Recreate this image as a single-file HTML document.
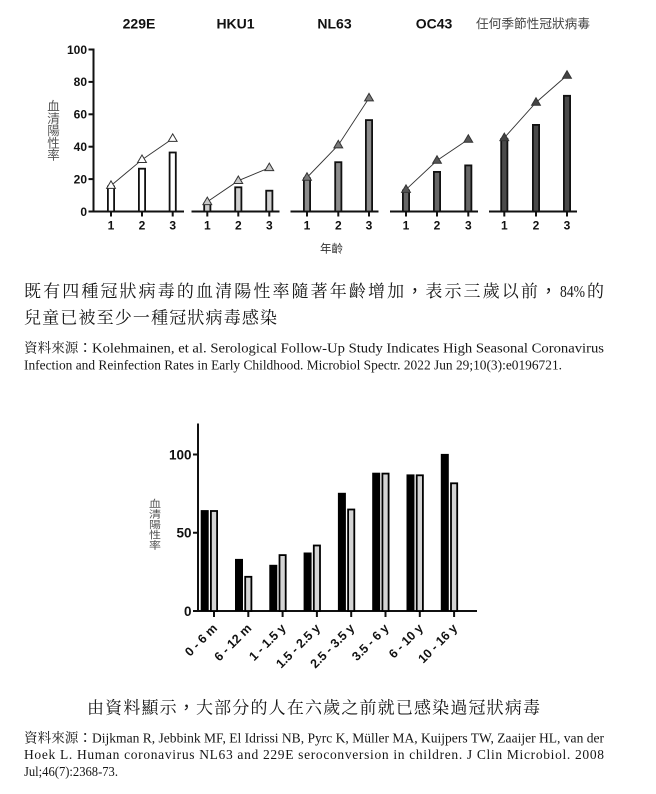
<!DOCTYPE html>
<html><head><meta charset="utf-8">
<style>
html,body{margin:0;padding:0;background:#fff;}
svg{display:block;}
.t{font-family:"Liberation Sans",Arial,sans-serif;font-weight:bold;fill:#111;}
.cj{font-family:"Liberation Sans","Noto Sans CJK TC",sans-serif;}
.sf{font-family:"Liberation Serif","Noto Serif CJK SC",serif;fill:#161616;}
.pn{font-family:"Noto Sans CJK TC",sans-serif;}
</style></head>
<body>
<svg width="656" height="794" viewBox="0 0 656 794" xmlns="http://www.w3.org/2000/svg">
<rect width="656" height="794" fill="#fff"/>

<!-- ===== TOP CHART ===== -->
<g class="t" font-size="14" text-anchor="middle">
<text x="139" y="28.5">229E</text>
<text x="235.5" y="28.5">HKU1</text>
<text x="334.5" y="28.5">NL63</text>
<text x="434" y="28.5">OC43</text>
</g>
<text class="cj" x="476" y="28" font-size="12.5" fill="#444" textLength="114" lengthAdjust="spacingAndGlyphs">任何季節性冠狀病毒</text>

<!-- y label -->
<g class="cj" font-size="12.5" fill="#555" text-anchor="middle">
<text x="53.5" y="110.5">血</text>
<text x="53.5" y="122.8">清</text>
<text x="53.5" y="135.1">陽</text>
<text x="53.5" y="147.4">性</text>
<text x="53.5" y="159.7">率</text>
</g>

<!-- y axis -->
<g stroke="#111" stroke-width="2" fill="none">
<line x1="93.5" y1="48.5" x2="93.5" y2="212.5"/>
<line x1="88.5" y1="211.5" x2="93.5" y2="211.5"/>
<line x1="88.5" y1="179.1" x2="93.5" y2="179.1"/>
<line x1="88.5" y1="146.7" x2="93.5" y2="146.7"/>
<line x1="88.5" y1="114.3" x2="93.5" y2="114.3"/>
<line x1="88.5" y1="81.9" x2="93.5" y2="81.9"/>
<line x1="88.5" y1="49.5" x2="93.5" y2="49.5"/>
<line x1="92.5" y1="211.5" x2="184" y2="211.5"/>
<line x1="191.5" y1="211.5" x2="279.5" y2="211.5"/>
<line x1="290.5" y1="211.5" x2="378.5" y2="211.5"/>
<line x1="390" y1="211.5" x2="478" y2="211.5"/>
<line x1="489" y1="211.5" x2="577" y2="211.5"/>
<line x1="111" y1="211.5" x2="111" y2="216.5"/><line x1="142" y1="211.5" x2="142" y2="216.5"/><line x1="172.7" y1="211.5" x2="172.7" y2="216.5"/>
<line x1="207.3" y1="211.5" x2="207.3" y2="216.5"/><line x1="238.3" y1="211.5" x2="238.3" y2="216.5"/><line x1="269.3" y1="211.5" x2="269.3" y2="216.5"/>
<line x1="307" y1="211.5" x2="307" y2="216.5"/><line x1="338.3" y1="211.5" x2="338.3" y2="216.5"/><line x1="369" y1="211.5" x2="369" y2="216.5"/>
<line x1="406" y1="211.5" x2="406" y2="216.5"/><line x1="437" y1="211.5" x2="437" y2="216.5"/><line x1="468.3" y1="211.5" x2="468.3" y2="216.5"/>
<line x1="504.3" y1="211.5" x2="504.3" y2="216.5"/><line x1="536" y1="211.5" x2="536" y2="216.5"/><line x1="567" y1="211.5" x2="567" y2="216.5"/>
</g>

<g class="t" font-size="12" text-anchor="end">
<text x="87" y="215.8">0</text>
<text x="87" y="183.4">20</text>
<text x="87" y="151">40</text>
<text x="87" y="118.6">60</text>
<text x="87" y="86.2">80</text>
<text x="87" y="53.8">100</text>
</g>
<g class="t" font-size="12" text-anchor="middle">
<text x="111" y="229.5">1</text><text x="142" y="229.5">2</text><text x="172.7" y="229.5">3</text>
<text x="207.3" y="229.5">1</text><text x="238.3" y="229.5">2</text><text x="269.3" y="229.5">3</text>
<text x="307" y="229.5">1</text><text x="338.3" y="229.5">2</text><text x="369" y="229.5">3</text>
<text x="406" y="229.5">1</text><text x="437" y="229.5">2</text><text x="468.3" y="229.5">3</text>
<text x="504.3" y="229.5">1</text><text x="536" y="229.5">2</text><text x="567" y="229.5">3</text>
</g>
<text class="cj" x="320" y="252.5" font-size="11.5" fill="#333">年齡</text>

<!-- bars -->
<g stroke="#111" stroke-width="1.8">
<g fill="#ffffff">
<rect x="107.9" y="186.5" width="6.2" height="25"/>
<rect x="138.9" y="168.7" width="6.2" height="42.8"/>
<rect x="169.6" y="152.5" width="6.2" height="59"/>
</g>
<g fill="#cfcfcf">
<rect x="204.2" y="203.5" width="6.2" height="8"/>
<rect x="235.2" y="187.3" width="6.2" height="24.2"/>
<rect x="266.2" y="190.7" width="6.2" height="20.8"/>
</g>
<g fill="#8c8c8c">
<rect x="303.9" y="178.4" width="6.2" height="33.1"/>
<rect x="335.2" y="162.2" width="6.2" height="49.3"/>
<rect x="365.9" y="120.1" width="6.2" height="91.4"/>
</g>
<g fill="#666666">
<rect x="402.9" y="190.5" width="6.2" height="21"/>
<rect x="433.9" y="171.9" width="6.2" height="39.6"/>
<rect x="465.2" y="165.4" width="6.2" height="46.1"/>
</g>
<g fill="#4a4a4a">
<rect x="501.2" y="139" width="6.2" height="72.5"/>
<rect x="532.9" y="124.9" width="6.2" height="86.6"/>
<rect x="563.9" y="95.8" width="6.2" height="115.7"/>
</g>
</g>

<g stroke="#333" stroke-width="0.9" fill="none">
<polyline points="111,185.6 142,159.7 172.7,138.6"/>
<polyline points="207.3,201.8 238.3,180.7 269.3,167.8"/>
<polyline points="307,177.5 338.3,145.1 369,98.1"/>
<polyline points="406,189.6 437,160.5 468.3,139.4"/>
<polyline points="504.3,137.8 536,102.5 567,75.4"/>
</g>
<g stroke="#333" stroke-width="1">
<g fill="#ffffff">
<polygon points="111,180.9 106.6,188.4 115.4,188.4"/>
<polygon points="142,155 137.6,162.5 146.4,162.5"/>
<polygon points="172.7,133.9 168.3,141.4 177.1,141.4"/>
</g>
<g fill="#c8c8c8">
<polygon points="207.3,197.1 202.9,204.6 211.7,204.6"/>
<polygon points="238.3,176 233.9,183.5 242.7,183.5"/>
<polygon points="269.3,163.1 264.9,170.6 273.7,170.6"/>
</g>
<g fill="#7a7a7a">
<polygon points="307,172.8 302.6,180.3 311.4,180.3"/>
<polygon points="338.3,140.4 333.9,147.9 342.7,147.9"/>
<polygon points="369,93.4 364.6,100.9 373.4,100.9"/>
</g>
<g fill="#555555">
<polygon points="406,184.9 401.6,192.4 410.4,192.4"/>
<polygon points="437,155.8 432.6,163.3 441.4,163.3"/>
<polygon points="468.3,134.7 463.9,142.2 472.7,142.2"/>
</g>
<g fill="#444444">
<polygon points="504.3,133.1 499.9,140.6 508.7,140.6"/>
<polygon points="536,97.8 531.6,105.3 540.4,105.3"/>
<polygon points="567,70.7 562.6,78.2 571.4,78.2"/>
</g>
</g>

<!-- ===== TEXT BLOCK 1 ===== -->
<text class="sf" x="24" y="297" font-size="17" textLength="533" lengthAdjust="spacing">既有四種冠狀病毒的血清陽性率隨著年齡增加<tspan class="pn">，</tspan>表示三歲以前<tspan class="pn">，</tspan></text>
<text class="sf" x="560" y="297" font-size="17" textLength="25" lengthAdjust="spacingAndGlyphs">84%</text>
<text class="sf" x="587" y="297" font-size="17">的</text>
<text class="sf" x="24" y="323.5" font-size="17" textLength="253" lengthAdjust="spacing">兒童已被至少一種冠狀病毒感染</text>
<text class="sf" x="24" y="352.3" font-size="13.5" textLength="68" lengthAdjust="spacingAndGlyphs">資料來源<tspan class="pn">：</tspan></text>
<text class="sf" x="92" y="352.3" font-size="13.5" textLength="512" lengthAdjust="spacingAndGlyphs">Kolehmainen, et al. Serological Follow-Up Study Indicates High Seasonal Coronavirus</text>
<text class="sf" x="24" y="369.3" font-size="13.5" textLength="538" lengthAdjust="spacingAndGlyphs">Infection and Reinfection Rates in Early Childhood. Microbiol Spectr. 2022 Jun 29;10(3):e0196721.</text>

<!-- ===== BOTTOM CHART ===== -->
<g class="cj" font-size="12" fill="#555" text-anchor="middle" transform="scale(1,0.85)">
<text x="155" y="597.1">血</text>
<text x="155" y="609.3">清</text>
<text x="155" y="621.5">陽</text>
<text x="155" y="633.8">性</text>
<text x="155" y="646">率</text>
</g>

<g stroke="#111" stroke-width="2" fill="none">
<line x1="198" y1="423.5" x2="198" y2="612"/>
<line x1="197" y1="611" x2="477" y2="611"/>
<line x1="193" y1="454.5" x2="198" y2="454.5"/>
<line x1="193" y1="532.75" x2="198" y2="532.75"/>
<line x1="193" y1="611" x2="198" y2="611"/>
<line x1="214" y1="611" x2="214" y2="617"/>
<line x1="248.3" y1="611" x2="248.3" y2="617"/>
<line x1="282.6" y1="611" x2="282.6" y2="617"/>
<line x1="316.9" y1="611" x2="316.9" y2="617"/>
<line x1="351.2" y1="611" x2="351.2" y2="617"/>
<line x1="385.5" y1="611" x2="385.5" y2="617"/>
<line x1="419.8" y1="611" x2="419.8" y2="617"/>
<line x1="454.1" y1="611" x2="454.1" y2="617"/>
</g>
<g class="t" font-size="13.5" text-anchor="end">
<text x="191.5" y="459.3">100</text>
<text x="191.5" y="537.6">50</text>
<text x="191.5" y="615.8">0</text>
</g>

<g fill="#000">
<rect x="200.7" y="510.1" width="8" height="100.9"/>
<rect x="235" y="558.9" width="8" height="52.1"/>
<rect x="269.3" y="564.8" width="8" height="46.2"/>
<rect x="303.6" y="552.5" width="8" height="58.5"/>
<rect x="337.9" y="492.8" width="8" height="118.2"/>
<rect x="372.2" y="472.7" width="8" height="138.3"/>
<rect x="406.5" y="474.4" width="8" height="136.6"/>
<rect x="440.8" y="453.9" width="8" height="157.1"/>
</g>
<g fill="#d4d4d4" stroke="#000" stroke-width="1.8">
<rect x="210.9" y="511" width="6.2" height="100"/>
<rect x="245.2" y="576.8" width="6.2" height="34.2"/>
<rect x="279.5" y="555.1" width="6.2" height="55.9"/>
<rect x="313.8" y="545.5" width="6.2" height="65.5"/>
<rect x="348.1" y="509.5" width="6.2" height="101.5"/>
<rect x="382.4" y="473.6" width="6.2" height="137.4"/>
<rect x="416.7" y="475.3" width="6.2" height="135.7"/>
<rect x="451" y="483.3" width="6.2" height="127.7"/>
</g>

<g class="t" font-size="12.5" text-anchor="end">
<text x="218" y="629" transform="rotate(-45 218 629)">0 - 6 m</text>
<text x="252.3" y="629" transform="rotate(-45 252.3 629)">6 - 12 m</text>
<text x="286.6" y="629" transform="rotate(-45 286.6 629)">1 - 1.5 y</text>
<text x="320.9" y="629" transform="rotate(-45 320.9 629)">1.5 - 2.5 y</text>
<text x="355.2" y="629" transform="rotate(-45 355.2 629)">2.5 - 3.5 y</text>
<text x="389.5" y="629" transform="rotate(-45 389.5 629)">3.5 - 6 y</text>
<text x="423.8" y="629" transform="rotate(-45 423.8 629)">6 - 10 y</text>
<text x="458.1" y="629" transform="rotate(-45 458.1 629)">10 - 16 y</text>
</g>

<!-- ===== TEXT BLOCK 2 ===== -->
<text class="sf" x="87" y="713.5" font-size="17" textLength="453" lengthAdjust="spacing">由資料顯示<tspan class="pn">，</tspan>大部分的人在六歲之前就已感染過冠狀病毒</text>
<text class="sf" x="24" y="742.3" font-size="13.5" textLength="68" lengthAdjust="spacingAndGlyphs">資料來源<tspan class="pn">：</tspan></text>
<text class="sf" x="92" y="742.3" font-size="13.5" textLength="512" lengthAdjust="spacingAndGlyphs">Dijkman R, Jebbink MF, El Idrissi NB, Pyrc K, Müller MA, Kuijpers TW, Zaaijer HL, van der</text>
<text class="sf" x="24" y="759.2" font-size="13.5" textLength="580" lengthAdjust="spacing">Hoek L. Human coronavirus NL63 and 229E seroconversion in children. J Clin Microbiol. 2008</text>
<text class="sf" x="24" y="776.2" font-size="13.5" textLength="94" lengthAdjust="spacingAndGlyphs">Jul;46(7):2368-73.</text>
</svg>
</body></html>
